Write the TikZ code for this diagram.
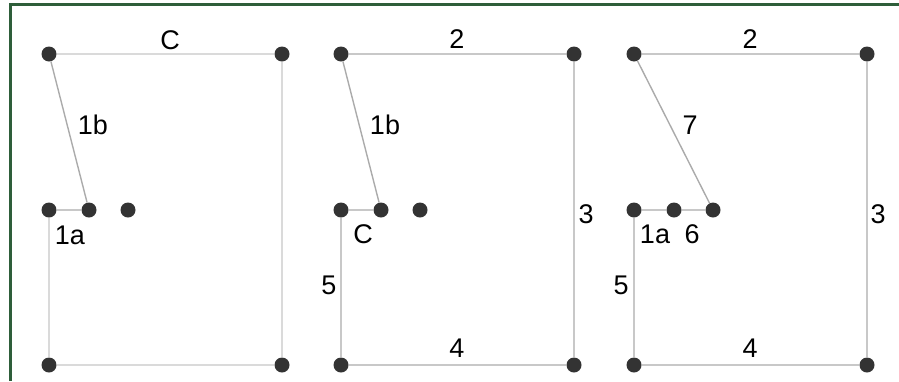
\documentclass[tikz,border=0pt]{standalone}
\usepackage{fontspec}
\setmainfont{Liberation Sans}
\definecolor{framegreen}{HTML}{2E5E3A}
\definecolor{dotgray}{HTML}{333333}
\definecolor{palegray}{HTML}{DADADA}
\definecolor{edgegray}{HTML}{ABABAB}
\tikzset{
    dot/.style={circle, fill=dotgray, inner sep=0pt, minimum size=15pt},
    edge/.style={draw=edgegray, line width=1.4pt},
    faint/.style={draw=palegray, line width=1.4pt},
    lbl/.style={inner sep=0pt, font=\fontsize{27}{27}\selectfont}
}
\begin{document}
\begin{tikzpicture}[x=1pt, y=-1pt]
    \useasboundingbox (0,0) rectangle (899,381);
    % frame
    \draw[framegreen, line width=3pt] (10.5,381) -- (10.5,4.5) -- (899,4.5);

    % First panel
    \node[dot] (ta) at (49,54) {};
    \node[dot] (tb) at (282,54) {};
    \node[dot] (ma) at (49,210) {};
    \node[dot] (mb) at (89,210) {};
    \node[dot] (mc) at (128,210) {};
    \node[dot] (ba) at (49,365) {};
    \node[dot] (bb) at (282,365) {};
    \draw[faint] (ta) -- (tb) -- (bb) -- (ba) -- (ma);
    \draw[edge] (ma) -- (mb) -- (ta);
    \node[lbl] (tal) at (170,40) {C};
    \node[lbl] (tbl) at (93,125) {1b};
    \node[lbl] (tcl) at (70,235) {1a};

    % Second panel
    \node[dot] (sa) at (341,54) {};
    \node[dot] (sb) at (574,54) {};
    \node[dot] (sc) at (341,210) {};
    \node[dot] (sd) at (381,210) {};
    \node[dot] (se) at (420,210) {};
    \node[dot] (sf) at (341,365) {};
    \node[dot] (sg) at (574,365) {};
    \draw[edge] (sd) -- (sa) -- (sb) -- (sg) -- (sf) -- (sc) -- (sd);
    \node[lbl] (sal) at (457,39) {2};
    \node[lbl] (sbl) at (385,125) {1b};
    \node[lbl] (scl) at (363,234) {C};
    \node[lbl] (sdl) at (329,285) {5};
    \node[lbl] (sel) at (586,214) {3};
    \node[lbl] (sfl) at (457,348) {4};

    % Third panel
    \node[dot] (ua) at (634,54) {};
    \node[dot] (ub) at (867,54) {};
    \node[dot] (uc) at (634,210) {};
    \node[dot] (ud) at (674,210) {};
    \node[dot] (ue) at (713,210) {};
    \node[dot] (uf) at (634,365) {};
    \node[dot] (ug) at (867,365) {};
    \draw[edge] (ue) -- (ua) -- (ub) -- (ug) -- (uf) -- (uc) -- (ud) -- (ue);
    \node[lbl] (ual) at (750,39) {2};
    \node[lbl] (ubl) at (690,125) {7};
    \node[lbl] (ucl) at (655,234) {1a};
    \node[lbl] (udl) at (692,234) {6};
    \node[lbl] (uel) at (621,285) {5};
    \node[lbl] (ufl) at (878,214) {3};
    \node[lbl] (ugl) at (750,348) {4};
\end{tikzpicture}
\end{document}
